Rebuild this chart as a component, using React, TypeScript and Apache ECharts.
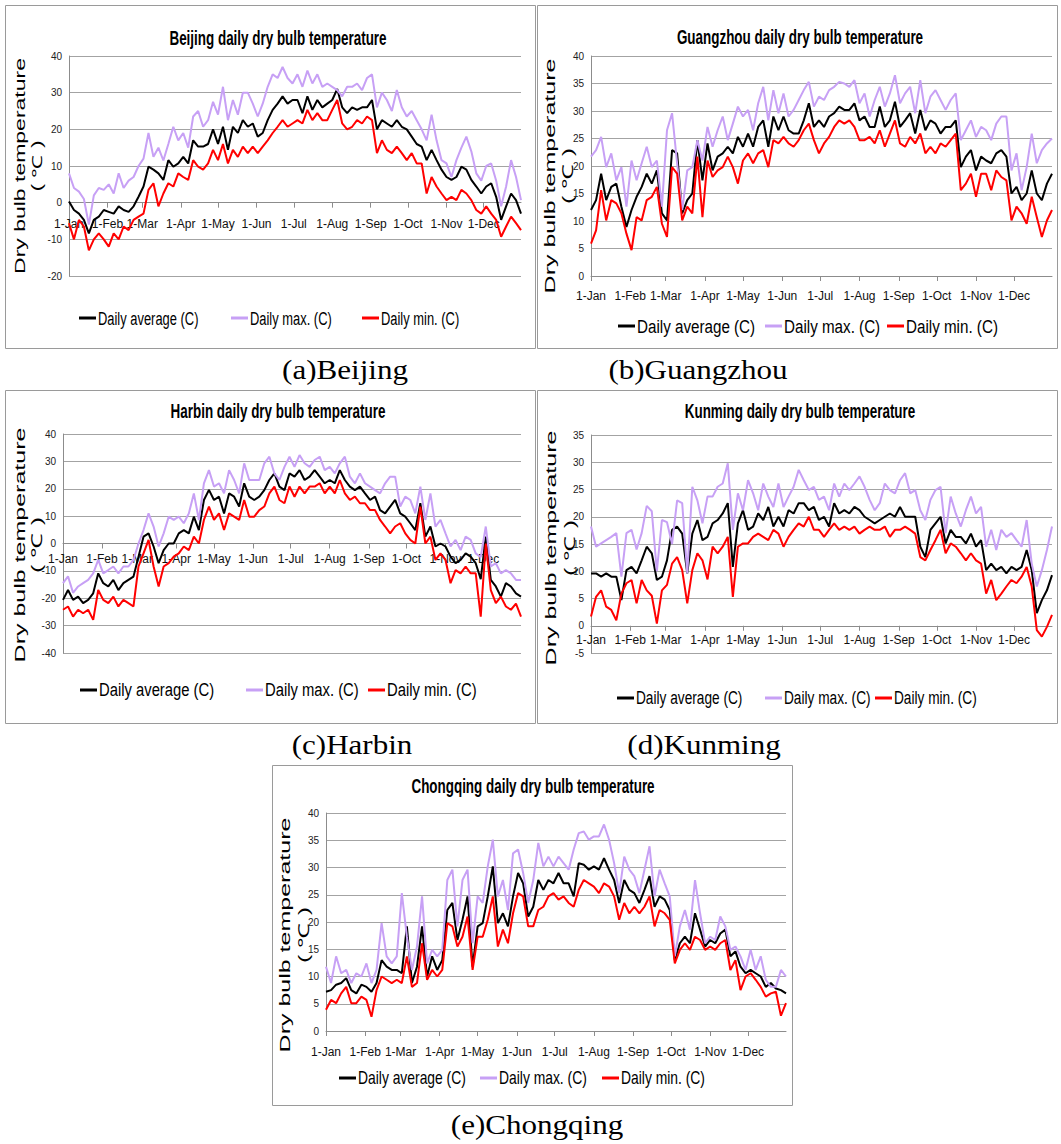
import React, { useEffect, useRef } from "react";
import * as echarts from "echarts";

const MONTH_NAMES = ["Jan", "Feb", "Mar", "Apr", "May", "Jun", "Jul", "Aug", "Sep", "Oct", "Nov", "Dec"];
const MONTH_DAYS = [31, 28, 31, 30, 31, 30, 31, 31, 30, 31, 30, 31];
const MONTH_START = [0, 31, 59, 90, 120, 151, 181, 212, 243, 273, 304, 334];
const DAY_LABELS: string[] = [];
MONTH_NAMES.forEach((m, i) => {
  for (let d = 1; d <= MONTH_DAYS[i]; d++) DAY_LABELS.push(`${d}-${m}`);
});
// sampled day-of-year indices (every 4th day, 1-Jan .. 31-Dec)
const SAMPLE_DAYS = Array.from({ length: 92 }, (_, i) => i * 4);

const SERIES_NAMES = ["Daily average (C)", "Daily max. (C)", "Daily min. (C)"];
const SERIES_COLORS = ["#000000", "#c7a0f5", "#ff0000"];

// ---------- Beijing ----------
const BJ_AVG = [0.3, -2, -3, -4.7, -8.4, -4.7, -3.8, -2, -2.5, -3, -1, -2, -2.5, -1, 1.6, 4.4, 9.8, 9, 8, 6.2, 11.6, 9.8, 10.7, 12.5, 10.7, 17, 15.3, 15.3, 16, 20, 16, 20.7, 14.4, 20.7, 19, 22.5, 20.7, 21.6, 18, 19, 22.5, 25.3, 27, 29, 27, 28,
  28, 24.4, 29, 25.3, 28, 26, 27, 28, 31, 26, 24.4, 26, 25.3, 26, 26, 28, 20, 22.5, 21.6, 20.7, 22.5, 20.7, 20, 18, 16, 15.3, 11.6, 14.4, 11.6, 9, 7, 6.2, 7, 9.8, 9, 6.2, 4.4, 2.5, 4.4, 5.3, 1.6, -4.7, -1, 2.5, 0.7, -3];
const BJ_MAX = [8, 4, 3, 1, -6, 2, 4, 3.5, 5, 2.5, 8, 4, 6, 7, 10, 12, 19, 12.5, 15, 11.5, 16, 20.7, 17, 19, 15, 23.5, 25, 20.7, 22.5, 27.5, 24, 31.6, 22.5, 28, 24, 30, 30, 27, 23.5, 27, 31.6, 35, 34, 37, 34, 32.5,
  35, 31.6, 36, 32.5, 35, 31.6, 32.5, 31.6, 30.7, 29, 31.6, 31.6, 32.5, 30.7, 34, 35, 26, 30, 28, 25, 30.7, 26, 23.5, 25, 22.5, 20, 17, 24, 17, 11.6, 10.7, 7, 11.6, 15, 18, 14, 8, 6, 10, 10.7, 6, -1, 4.4, 11.6, 7, 0.7];
const BJ_MIN = [-5.6, -10, -4.7, -6.5, -13, -10, -8.4, -10, -12, -8.4, -10, -6.5, -7.5, -4.7, -3.8, -3, 3.5, 5.3, -1, 2.5, 5.3, 4.4, 8, 7, 6.2, 11.6, 9.8, 9, 10.7, 14.4, 11.6, 16, 10.7, 14.4, 12.5, 15.3, 13.5, 15.3, 13.5, 15.3, 17, 19, 20.7, 22.5, 20.7, 21.6,
  22.5, 21.6, 25.3, 22.5, 24.4, 22.5, 22.5, 25.3, 28, 21.6, 20, 20.7, 22.5, 21.6, 23.5, 22.5, 13.5, 17, 14.4, 13.5, 15.3, 13.5, 11.6, 13.5, 10.7, 10.7, 2.5, 7, 4.4, 2.5, 0.7, 1.6, 0.7, 3.5, 2.5, 0.7, -2, -3, -1, -3, -4.7, -9.3, -6.5, -3.8, -5.6, -7.5];

// ---------- Guangzhou ----------
const GZ_AVG = [12, 13.8, 18.6, 13.8, 16.2, 16.8, 12.6, 8.9, 12, 14.4, 16.2, 18.6, 16.8, 19.2, 11.4, 10.1, 22.9, 22.3, 11.4, 13.8, 15, 24.7, 17.4, 24.1, 19.2, 21.7, 22.3, 23.5, 22.3, 25.3, 23.5, 25.9, 23.5, 27.1, 28.3, 23.5, 29, 26.5, 29, 26.5, 25.9, 25.9, 28.3, 31.4, 27.1, 28.3,
  27.1, 29, 29.6, 30.8, 30.2, 30.2, 31.4, 28.3, 29, 27.1, 27.1, 30.8, 27.1, 28.3, 31.7, 27.1, 28.3, 29.6, 25.9, 30.2, 26.5, 28.3, 27.7, 25.9, 27.1, 27.1, 28.3, 19.8, 21.7, 22.9, 19.2, 21.7, 21, 20.5, 22.3, 22.9, 21.7, 15, 16.2, 13.8, 15, 19.2, 15, 13.8, 16.8, 18.6];
const GZ_MAX = [21.7, 22.9, 25.3, 19.8, 22.3, 17.4, 19.8, 12.6, 21, 17.4, 20.5, 23.5, 19.8, 21, 12.6, 26.5, 29.6, 20.5, 12, 19.2, 19.8, 24.7, 21, 27.1, 23.5, 26.5, 29, 24.7, 27.7, 30.8, 29, 30.2, 26.5, 31.4, 34.4, 28.3, 33.8, 29.6, 33.2, 29, 30.2, 32, 33.8, 35.3, 30.8, 32.6,
  32, 33.8, 34.4, 35.3, 35, 34.4, 35.6, 31.4, 33.2, 29, 32, 34.4, 30.8, 33.2, 36.5, 31.4, 33.2, 34.4, 29.6, 35.6, 29.6, 32.6, 33.8, 32, 30.2, 32, 33.2, 24.7, 26.5, 28.3, 25.3, 27.1, 26.5, 24.7, 27.7, 29, 29, 19.2, 22.3, 15.6, 19.8, 25.9, 20.5, 22.9, 24.1, 25];
const GZ_MIN = [5.9, 8.3, 15.6, 10.1, 13.8, 13.2, 11.4, 7.7, 4.7, 10.7, 10.1, 13.8, 14.4, 16.2, 9.5, 7.1, 19.8, 18.6, 10.1, 12.6, 11.4, 21.7, 10.7, 21, 18, 19.2, 19.8, 21.7, 19.8, 16.8, 21, 22.3, 20.5, 22.3, 22.9, 19.8, 24.7, 24.1, 25.3, 24.1, 23.5, 24.7, 26.5, 27.7, 24.7, 22.3,
  24.1, 25.3, 27.1, 28.3, 27.7, 28.3, 27.1, 24.7, 24.7, 25.3, 24.1, 26.5, 23.5, 25.9, 28.3, 24.1, 23.5, 25.3, 24.1, 25.9, 22.3, 23.5, 22.3, 24.1, 23.5, 24.7, 25.9, 15.6, 16.8, 18.6, 14.4, 18.6, 18.6, 15.6, 19.2, 18, 17.4, 10.1, 12.6, 11.4, 9.5, 14.4, 10.7, 7.1, 10.1, 12];

// ---------- Harbin ----------
const HRB_AVG = [-20.6, -17, -20.6, -19.4, -21.8, -20.6, -18.2, -10.9, -14.5, -15.7, -13.3, -17, -14.5, -13.3, -12.1, -4.8, 2.5, 3.7, -1.1, -7.2, -2.4, 0, 0, 3.7, 4.9, 3.7, 9.8, 4.9, 15.9, 19.6, 15.9, 17.1, 11, 18.3, 17.1, 13.5, 22, 17.1, 15.9, 17.1, 19.5, 23.2, 25.6, 20.8, 19.5, 25.6,
  24.4, 26.8, 23.2, 24.4, 26.8, 24.4, 22, 23.2, 22, 26.8, 23.2, 20.8, 19.5, 20.8, 18.3, 15.9, 17.1, 12.2, 11, 13.5, 15.9, 11, 9.8, 7.4, 4.9, 14.7, 2.5, 6.2, -1.1, 0, -1.1, -4.8, -7.2, -6, -3.6, -4.8, -7.2, -13, 2.5, -13.3, -15.7, -19.4, -14.5, -15.7, -18.2, -19.4];
const HRB_MAX = [-14.5, -12, -18, -15.7, -14.5, -13.3, -10.9, -6, -10.9, -9.7, -8.4, -10.9, -8.4, -8.4, -6, 0, 4.9, 11, 6.2, -1.1, 3.7, 9.8, 8.6, 9.8, 7.4, 11, 18.3, 8.6, 22, 26.8, 20.8, 22, 18.3, 26.8, 23.2, 18.3, 29.3, 23.2, 23.2, 23.2, 29.3, 31.7, 25.6, 23.2, 28, 31.7,
  28, 32.3, 29.3, 28, 30.5, 31.7, 26.8, 28, 25.6, 29.3, 31.7, 24.4, 22, 25.6, 22, 20.8, 19.5, 18.3, 22, 24.4, 24.4, 13.5, 17.1, 15.9, 11, 20.8, 8.6, 18.3, 6.2, 8.6, 3.7, -1.1, 1.3, -2.4, 2.5, 1.3, -3.6, -5, 6.2, -8.4, -7.2, -10.9, -9.7, -10.9, -13.3, -13.3];
const HRB_MIN = [-24.2, -23, -26.7, -24.2, -25.5, -24.2, -27.9, -17, -20.6, -21.8, -19.4, -23, -20.6, -21.8, -23, -8.4, -3.6, 1.3, -8.4, -15.7, -8.4, -7.2, -4.8, -3.6, -1.1, -2.4, 2.5, 0, 8.6, 13.5, 8.6, 11, 4.9, 11, 9.8, 8.6, 15.9, 9.8, 9.8, 12.2, 13.5, 18.3, 20.8, 15.9, 14.7, 20.8,
  17.1, 20.8, 18.3, 20.8, 20.8, 22, 18.3, 20.8, 18.3, 23.2, 18.3, 15.9, 17.1, 14.7, 14.7, 12.2, 12.2, 8.6, 6.2, 3.7, 6.2, 7.4, 3.7, 1.3, 0, 13.5, 0, 2.5, -6, -3.6, -6, -14.5, -9.7, -10.9, -8.4, -10.9, -10.9, -26.7, 0, -17, -21.8, -19.4, -23, -24.2, -22, -26.7];

// ---------- Kunming ----------
const KM_AVG = [9.6, 9.6, 9, 9.6, 9, 9, 4.7, 10.2, 10.8, 9.6, 12, 14.5, 13.3, 8.4, 9, 12, 17.6, 18.2, 16.9, 9.6, 16.9, 19.4, 15.7, 16.3, 18.8, 19.4, 20.6, 22.5, 10.8, 18.8, 21.2, 17.6, 18.2, 20.6, 19.4, 21.8, 18.2, 20, 18.2, 21.2, 20.6, 22.5, 22.5, 21.2, 21.8, 19.4,
  20, 18.2, 22.5, 20.6, 21.2, 20.6, 21.8, 21.2, 20, 19.4, 18.8, 19.4, 20, 20.6, 20, 21.8, 20, 20, 20, 14.5, 12.6, 17.6, 18.8, 20, 15.1, 17.6, 16.3, 16.3, 15.1, 16.9, 14.5, 15.7, 10.2, 11.4, 10.2, 10.8, 9.6, 10.8, 10.2, 10.8, 13.9, 10.2, 2.3, 4.7, 6.5, 9.3];
const KM_MAX = [18.2, 14.5, 15.1, 15.7, 16.3, 17, 9, 17, 17.6, 14, 17, 22, 21, 10, 19.4, 19, 15, 23, 22.5, 9.6, 25.5, 23, 18.8, 23.7, 23.7, 25.5, 26.1, 29.8, 17.6, 24.3, 21.2, 26.7, 24.3, 21.2, 26.1, 23.7, 21.8, 26.1, 21.8, 23.7, 25.5, 28.6, 26.7, 24.9, 25.5, 23.1,
  23.7, 21.2, 26.1, 23.7, 26.1, 24.9, 26.1, 27.4, 25.5, 23.1, 21.2, 22.5, 26.1, 24.9, 24.3, 26.7, 28, 24.3, 24.9, 21.2, 19.4, 23.1, 24.9, 25.5, 17, 23.7, 20.6, 18.2, 21.2, 23.7, 20.6, 21.8, 14.5, 17.6, 13.9, 17.6, 16.3, 17, 15.7, 14.5, 19.4, 11.4, 7.2, 10.2, 13.9, 18.2];
const KM_MIN = [1.7, 5.3, 6.5, 3.5, 2.9, 1, 5.9, 7.8, 8.4, 4.1, 8.4, 6.5, 5.5, 0.4, 6.5, 7.5, 11.4, 12.6, 10.2, 4.1, 10.2, 13.3, 12, 8.5, 14.5, 13.3, 14.5, 16.3, 5.3, 14.5, 15.1, 15.1, 16.3, 16.9, 16.3, 15.7, 17.6, 16.9, 14.5, 16.3, 17.6, 18.8, 18.2, 20, 17.6, 17.6,
  16.3, 17.6, 18.8, 17.6, 18.2, 17.6, 18.2, 16.9, 17.6, 18.2, 17.6, 17.6, 18.2, 16.3, 17.6, 17.6, 18.2, 17.6, 16.9, 12.6, 12, 13.9, 15.7, 17.6, 13.3, 15.1, 14.5, 13.3, 12, 13.3, 12, 11.4, 5.9, 8.4, 4.7, 5.9, 7.2, 8.4, 7.8, 9, 10.8, 7.2, -0.8, -2, -0.2, 2];

// ---------- Chongqing ----------
const CQ_AVG = [7.2, 7.5, 8.5, 8.8, 9.7, 7.5, 6.9, 8.5, 8.1, 7.2, 8.8, 13, 11.8, 11.2, 11.2, 10.6, 19.2, 8.8, 11.8, 19.2, 10, 13.7, 11.2, 13, 22.2, 23.5, 16.7, 20.4, 24.7, 11.8, 19.2, 19.8, 24.7, 30.2, 19.8, 21.6, 19.2, 24.7, 29, 27.1, 21, 22.8, 27.7, 25.9, 27.7, 27.1,
  29, 27.1, 27.1, 24.7, 30.8, 30.5, 29.6, 30.2, 29.6, 31.7, 29.6, 27.7, 23.5, 27.7, 25.9, 25.3, 23.5, 25.9, 28.4, 22.8, 24.7, 24.1, 22.2, 13, 16.1, 17.3, 16.1, 21.6, 18.6, 15.5, 16.7, 16.1, 17.9, 18.6, 13.7, 14.6, 11.8, 10.6, 11.2, 10.6, 10, 8.1, 8.8, 7.8, 7.5, 6.9];
const CQ_MAX = [11.8, 8.8, 13.7, 10.6, 11.2, 8.8, 10.6, 10, 12.4, 8.8, 11.2, 19.8, 13.7, 12.4, 13.7, 25.3, 17.3, 11.2, 15.5, 24.7, 12.4, 14.9, 13.7, 14.9, 27.7, 29.6, 19.2, 27.7, 29.6, 16.1, 24.7, 23.5, 30.2, 35.1, 24.7, 27.7, 22.2, 32.6, 33.3, 29, 23.5, 27.7, 34.5, 30.2, 32, 30.2,
  32, 30.8, 29.6, 33.3, 36.3, 36.6, 35.1, 35.7, 35.7, 37.9, 35.1, 30.8, 25.3, 32, 29.6, 28.4, 25.3, 29.6, 33.9, 24.7, 29.6, 27.1, 24.7, 13.7, 19.2, 22.2, 18.6, 27.7, 21.6, 16.1, 17.3, 16.7, 21, 19.2, 14.9, 15.5, 13.7, 11.2, 14.9, 11.2, 13.7, 9.4, 8.1, 8.1, 11.2, 10];
const CQ_MIN = [3.9, 5.7, 5.1, 6.9, 8.1, 5.1, 5.1, 6.3, 5.7, 2.6, 7.5, 10, 9.4, 8.8, 9.4, 8.8, 13.7, 8.1, 8.8, 16.1, 9.4, 11.2, 10, 11.2, 19.8, 19.2, 15.5, 17.3, 21, 11.2, 17.3, 17.3, 20.4, 24.7, 15.5, 18.6, 16.1, 21.6, 25.3, 24.7, 19.2, 19.2, 22.2, 22.8, 24.7, 25.3,
  24.1, 24.7, 23.5, 22.8, 25.9, 27.7, 27.1, 26.5, 25.3, 27.1, 26.5, 24.7, 20.4, 23.5, 21.6, 22.8, 21.6, 22.8, 24.7, 19.2, 22.2, 21.6, 20.4, 12.4, 14.9, 16.1, 14.9, 17.3, 16.7, 14.9, 15.5, 14.9, 16.1, 16.7, 11.2, 13, 7.5, 10, 10.6, 9.4, 8.1, 6.3, 6.9, 7.2, 2.8, 5.1];

const PANELS = [
  { title: "Beijing daily dry bulb temperature", caption: "(a)Beijing", series: [BJ_AVG, BJ_MAX, BJ_MIN], yMin: -20, yMax: 40, yStep: 10 },
  { title: "Guangzhou daily dry bulb temperature", caption: "(b)Guangzhou", series: [GZ_AVG, GZ_MAX, GZ_MIN], yMin: 0, yMax: 40, yStep: 5 },
  { title: "Harbin daily dry bulb temperature", caption: "(c)Harbin", series: [HRB_AVG, HRB_MAX, HRB_MIN], yMin: -40, yMax: 40, yStep: 10 },
  { title: "Kunming daily dry bulb temperature", caption: "(d)Kunming", series: [KM_AVG, KM_MAX, KM_MIN], yMin: -5, yMax: 35, yStep: 5 },
  { title: "Chongqing daily dry bulb temperature", caption: "(e)Chongqing", series: [CQ_AVG, CQ_MAX, CQ_MIN], yMin: 0, yMax: 40, yStep: 5 },
];

// layout (pixels)
const LAYOUT = [
  { grid: [69, 56, 452, 220], frame: [5, 5, 530, 343], title: [278, 38], yName: [20, 37.5, 166, 23], legend: { y: 318, lines: [79, 231, 362], scale: 0.68 }, caption: [345, 370], xMargin: 15 },
  { grid: [591, 56, 461, 220], frame: [537, 5, 520, 343], title: [800, 37], yName: [550, 568, 176, 25], legend: { y: 326, lines: [618, 765, 887], scale: 0.8 }, caption: [698, 370], xMargin: 14 },
  { grid: [63, 434, 458, 219], frame: [5, 390, 530, 333], title: [278, 411], yName: [19.5, 37, 545, 25], legend: { y: 690, lines: [80, 246, 368], scale: 0.78 }, caption: [352, 745], xMargin: 9 },
  { grid: [591, 435, 461, 218], frame: [537, 390, 520, 333], title: [800, 411], yName: [551, 569.5, 548, 25], legend: { y: 698, lines: [617, 765, 875], scale: 0.72 }, caption: [704, 745], xMargin: 8 },
  { grid: [326, 813, 460, 218], frame: [272, 765, 520, 340], title: [533, 786], yName: [285, 304, 935, 25], legend: { y: 1078, lines: [339, 480, 602], scale: 0.73 }, caption: [537, 1125], xMargin: 15 },
];

const SANS = "'Liberation Sans', Arial, sans-serif";
const SERIF = "'Liberation Serif', 'Times New Roman', serif";

function buildOption() {
  const grid: any[] = [];
  const xAxis: any[] = [];
  const yAxis: any[] = [];
  const series: any[] = [];
  const graphic: any[] = [];

  PANELS.forEach((p, k) => {
    const L = LAYOUT[k];
    grid.push({ left: L.grid[0], top: L.grid[1], width: L.grid[2], height: L.grid[3], containLabel: false });
    // place the category axis where the value axis crosses zero
    const zeroOffset = p.yMin < 0 ? -L.grid[3] * (0 - p.yMin) / (p.yMax - p.yMin) : 0;
    xAxis.push({
      type: "category",
      gridIndex: k,
      position: "bottom",
      offset: zeroOffset,
      data: DAY_LABELS,
      boundaryGap: false,
      axisLine: { show: true, onZero: false, lineStyle: { color: "#8c8c8c", width: 1 } },
      axisTick: { show: true, interval: (i: number) => MONTH_START.includes(i), length: 5, lineStyle: { color: "#8c8c8c" } },
      axisLabel: {
        interval: (i: number) => MONTH_START.includes(i),
        color: "#111",
        fontSize: 12,
        fontFamily: SANS,
        margin: L.xMargin,
      },
      splitLine: { show: false },
    });
    yAxis.push({
      type: "value",
      gridIndex: k,
      min: p.yMin,
      max: p.yMax,
      interval: p.yStep,
      axisLine: { show: true, lineStyle: { color: "#8c8c8c" } },
      axisTick: { show: false },
      splitLine: { show: true, lineStyle: { color: "#a3a3a3", width: 1 } },
      axisLabel: { fontSize: 10, color: "#222", fontFamily: SANS, margin: 7 },
    });
    p.series.forEach((vals, s) => {
      series.push({
        type: "line",
        name: SERIES_NAMES[s],
        xAxisIndex: k,
        yAxisIndex: k,
        data: SAMPLE_DAYS.map((d, i) => [d, vals[i]]),
        showSymbol: false,
        symbol: "none",
        silent: true,
        lineStyle: { color: SERIES_COLORS[s], width: 2 },
        itemStyle: { color: SERIES_COLORS[s] },
      });
    });

    // frame
    graphic.push({
      type: "rect",
      silent: true,
      z: -1,
      shape: { x: L.frame[0] + 0.5, y: L.frame[1] + 0.5, width: L.frame[2], height: L.frame[3] },
      style: { fill: "none", stroke: "#9a9a9a", lineWidth: 1 },
    });
    // title
    graphic.push({
      type: "text",
      x: L.title[0],
      y: L.title[1],
      scaleX: 0.64,
      style: { text: p.title, font: `bold 21px ${SANS}`, fill: "#000", align: "center", verticalAlign: "middle" },
    });
    // y-axis name (two lines)
    graphic.push({
      type: "text",
      x: L.yName[0],
      y: L.yName[2],
      rotation: Math.PI / 2,
      scaleY: 0.6,
      style: { text: "Dry bulb temperature", font: `${L.yName[3]}px ${SANS}`, fill: "#000", align: "center", verticalAlign: "middle" },
    });
    graphic.push({
      type: "text",
      x: L.yName[1],
      y: L.yName[2],
      rotation: Math.PI / 2,
      scaleY: 0.6,
      style: { text: "( ℃ )", font: `${L.yName[3]}px ${SANS}`, fill: "#000", align: "center", verticalAlign: "middle" },
    });
    // legend
    SERIES_NAMES.forEach((name, s) => {
      const x0 = L.legend.lines[s];
      graphic.push({
        type: "line",
        silent: true,
        shape: { x1: x0, y1: L.legend.y, x2: x0 + 17, y2: L.legend.y },
        style: { stroke: SERIES_COLORS[s], lineWidth: 3 },
      });
      graphic.push({
        type: "text",
        x: x0 + 19,
        y: L.legend.y,
        scaleX: L.legend.scale,
        style: { text: name, font: `19px ${SANS}`, fill: "#000", align: "left", verticalAlign: "middle" },
      });
    });
    // caption
    graphic.push({
      type: "text",
      x: L.caption[0],
      y: L.caption[1],
      scaleX: 1.15,
      style: { text: p.caption, font: `27px ${SERIF}`, fill: "#000", align: "center", verticalAlign: "middle" },
    });
  });

  return {
    animation: false,
    backgroundColor: "#ffffff",
    grid,
    xAxis,
    yAxis,
    series,
    graphic,
  };
}

export default function App() {
  const ref = useRef<HTMLDivElement>(null);
  useEffect(() => {
    if (!ref.current) return;
    const chart = echarts.init(ref.current, undefined, { renderer: "svg" });
    chart.setOption(buildOption() as any);
    return () => chart.dispose();
  }, []);
  return (
    <div
      ref={ref}
      style={{ position: "absolute", left: 0, top: 0, width: 1061, height: 1144, background: "#fff" }}
    />
  );
}
